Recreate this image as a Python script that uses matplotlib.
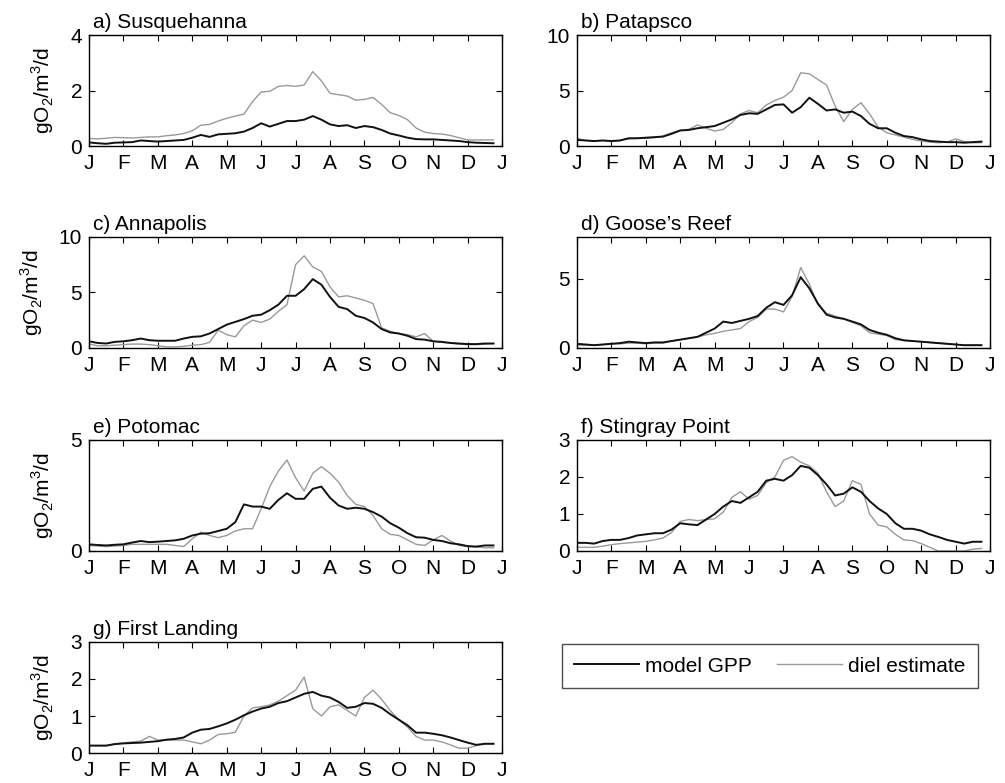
import numpy as np
import matplotlib
matplotlib.use('Agg')
import matplotlib.pyplot as plt

plt.rcParams['font.family'] = 'Liberation Sans'
plt.rcParams['mathtext.fontset'] = 'custom'
plt.rcParams['mathtext.rm'] = 'Liberation Sans'
plt.rcParams['axes.linewidth'] = 1.0

# sampled every quarter month, Jan 1 -> late Dec
months = np.arange(0, 12, 0.25)
month_labels = ['J', 'F', 'M', 'A', 'M', 'J', 'J', 'A', 'S', 'O', 'N', 'D', 'J']

# a) Susquehanna
a_gpp = [0.13, 0.10, 0.08, 0.12, 0.13, 0.14, 0.20, 0.18, 0.16, 0.18, 0.20, 0.22,
         0.30, 0.40, 0.33, 0.42, 0.44, 0.46, 0.52, 0.65, 0.82, 0.70, 0.80, 0.90,
         0.90, 0.95, 1.08, 0.95, 0.78, 0.72, 0.75, 0.65, 0.72, 0.68, 0.58, 0.45,
         0.38, 0.30, 0.25, 0.24, 0.24, 0.22, 0.20, 0.18, 0.14, 0.12, 0.11, 0.10]
a_diel = [0.27, 0.26, 0.28, 0.31, 0.30, 0.29, 0.31, 0.33, 0.33, 0.37, 0.40, 0.45,
          0.55, 0.75, 0.78, 0.90, 1.00, 1.08, 1.15, 1.60, 1.95, 1.97, 2.15, 2.18,
          2.15, 2.20, 2.68, 2.35, 1.90, 1.85, 1.80, 1.65, 1.68, 1.75, 1.50, 1.20,
          1.10, 0.95, 0.65, 0.50, 0.45, 0.43, 0.38, 0.30, 0.22, 0.22, 0.22, 0.22]

# b) Patapsco
b_gpp = [0.55, 0.50, 0.45, 0.50, 0.45, 0.50, 0.70, 0.70, 0.75, 0.80, 0.85, 1.10,
         1.40, 1.45, 1.60, 1.70, 1.80, 2.10, 2.40, 2.80, 2.95, 2.90, 3.30, 3.70,
         3.75, 3.00, 3.50, 4.35, 3.80, 3.20, 3.30, 3.00, 3.10, 2.70, 2.00, 1.60,
         1.60, 1.20, 0.90, 0.80, 0.60, 0.45, 0.40, 0.35, 0.35, 0.30, 0.35, 0.40]
b_diel = [0.70, 0.50, 0.45, 0.50, 0.40, 0.50, 0.65, 0.70, 0.70, 0.75, 0.90, 1.20,
          1.40, 1.50, 1.90, 1.60, 1.35, 1.50, 2.10, 2.90, 3.20, 3.00, 3.70, 4.10,
          4.40, 5.00, 6.60, 6.50, 6.00, 5.50, 3.60, 2.20, 3.30, 3.90, 2.90, 1.70,
          1.20, 1.00, 0.80, 0.60, 0.45, 0.35, 0.30, 0.35, 0.65, 0.40, 0.30, 0.30]

# c) Annapolis
c_gpp = [0.60, 0.45, 0.40, 0.55, 0.60, 0.70, 0.85, 0.70, 0.65, 0.65, 0.65, 0.85,
         1.00, 1.05, 1.30, 1.70, 2.10, 2.35, 2.60, 2.90, 3.00, 3.40, 3.90, 4.70,
         4.70, 5.30, 6.20, 5.70, 4.60, 3.70, 3.50, 2.90, 2.70, 2.30, 1.70, 1.40,
         1.30, 1.10, 0.80, 0.75, 0.60, 0.55, 0.45, 0.40, 0.35, 0.35, 0.40, 0.40]
c_diel = [0.35, 0.20, 0.20, 0.25, 0.30, 0.35, 0.35, 0.30, 0.20, 0.10, 0.10, 0.15,
          0.25, 0.30, 0.50, 1.60, 1.20, 1.00, 2.00, 2.50, 2.30, 2.60, 3.30, 3.90,
          7.50, 8.30, 7.30, 6.90, 5.50, 4.60, 4.70, 4.50, 4.30, 4.00, 1.80, 1.50,
          1.30, 1.20, 1.00, 1.30, 0.60, 0.50, 0.45, 0.35, 0.30, 0.30, 0.35, 0.40]

# d) Goose's Reef
d_gpp = [0.30, 0.25, 0.20, 0.25, 0.30, 0.35, 0.45, 0.40, 0.35, 0.40, 0.40, 0.50,
         0.60, 0.70, 0.80, 1.10, 1.40, 1.90, 1.80, 1.95, 2.10, 2.30, 2.90, 3.30,
         3.10, 3.80, 5.10, 4.30, 3.20, 2.40, 2.20, 2.10, 1.90, 1.70, 1.30, 1.10,
         0.95, 0.70, 0.55, 0.50, 0.45, 0.40, 0.35, 0.30, 0.25, 0.20, 0.20, 0.20]
d_diel = [0.20, 0.20, 0.20, 0.25, 0.30, 0.30, 0.35, 0.35, 0.30, 0.35, 0.35, 0.50,
          0.60, 0.70, 0.80, 0.95, 1.05, 1.20, 1.30, 1.40, 1.90, 2.20, 2.80, 2.80,
          2.60, 3.70, 5.80, 4.60, 3.10, 2.50, 2.30, 2.10, 1.85, 1.60, 1.10, 1.00,
          0.90, 0.60, 0.55, 0.50, 0.45, 0.40, 0.35, 0.30, 0.25, 0.20, 0.20, 0.20]

# e) Potomac
e_gpp = [0.30, 0.27, 0.25, 0.28, 0.30, 0.38, 0.45, 0.40, 0.42, 0.45, 0.48, 0.55,
         0.70, 0.78, 0.80, 0.90, 1.00, 1.30, 2.10, 2.00, 2.00, 1.90, 2.30, 2.60,
         2.35, 2.35, 2.80, 2.90, 2.40, 2.05, 1.90, 1.95, 1.90, 1.75, 1.55, 1.25,
         1.05, 0.80, 0.62, 0.60, 0.50, 0.45, 0.35, 0.30, 0.22, 0.20, 0.25, 0.25]
e_diel = [0.25, 0.22, 0.20, 0.22, 0.25, 0.30, 0.30, 0.30, 0.30, 0.30, 0.25, 0.20,
          0.55, 0.85, 0.70, 0.60, 0.70, 0.90, 1.00, 1.00, 1.90, 2.90, 3.60, 4.10,
          3.30, 2.70, 3.50, 3.80, 3.50, 3.10, 2.50, 2.10, 2.00, 1.60, 1.00, 0.75,
          0.70, 0.50, 0.30, 0.25, 0.50, 0.70, 0.45, 0.25, 0.20, 0.18, 0.15, 0.15]

# f) Stingray Point
f_gpp = [0.22, 0.22, 0.20, 0.27, 0.30, 0.30, 0.35, 0.42, 0.45, 0.48, 0.48, 0.58,
         0.75, 0.72, 0.70, 0.85, 1.00, 1.20, 1.35, 1.30, 1.45, 1.60, 1.90, 1.95,
         1.90, 2.05, 2.30, 2.25, 2.05, 1.80, 1.50, 1.55, 1.72, 1.60, 1.35, 1.15,
         1.00, 0.75, 0.60, 0.60, 0.55, 0.45, 0.38, 0.30, 0.25, 0.20, 0.25, 0.25]
f_diel = [0.10, 0.10, 0.10, 0.13, 0.17, 0.20, 0.22, 0.24, 0.26, 0.30, 0.35, 0.50,
          0.80, 0.85, 0.82, 0.85, 0.87, 1.05, 1.45, 1.60, 1.40, 1.50, 1.85, 2.00,
          2.45, 2.55, 2.40, 2.30, 2.10, 1.60, 1.20, 1.35, 1.90, 1.80, 1.00, 0.70,
          0.65, 0.45, 0.30, 0.28, 0.20, 0.10, 0.00, 0.00, 0.00, 0.00, 0.05, 0.07]

# g) First Landing
g_gpp = [0.20, 0.20, 0.20, 0.24, 0.26, 0.27, 0.28, 0.30, 0.32, 0.36, 0.38, 0.42,
         0.55, 0.63, 0.65, 0.72, 0.80, 0.90, 1.02, 1.12, 1.20, 1.25, 1.35, 1.40,
         1.50, 1.60, 1.65, 1.55, 1.50, 1.38, 1.22, 1.25, 1.35, 1.33, 1.22, 1.05,
         0.90, 0.75, 0.55, 0.55, 0.52, 0.48, 0.42, 0.35, 0.28, 0.22, 0.25, 0.25]
g_diel = [0.20, 0.20, 0.20, 0.25, 0.27, 0.30, 0.32, 0.45, 0.35, 0.35, 0.35, 0.35,
          0.30, 0.25, 0.35, 0.50, 0.52, 0.56, 1.00, 1.22, 1.25, 1.30, 1.40, 1.55,
          1.70, 2.05, 1.20, 1.00, 1.25, 1.30, 1.15, 1.00, 1.50, 1.70, 1.45, 1.15,
          0.90, 0.70, 0.45, 0.35, 0.35, 0.30, 0.22, 0.13, 0.13, 0.20, 0.25, 0.25]

titles = ['a) Susquehanna', 'b) Patapsco', 'c) Annapolis', "d) Goose\u2019s Reef",
          'e) Potomac', 'f) Stingray Point', 'g) First Landing']
gpp_series = [a_gpp, b_gpp, c_gpp, d_gpp, e_gpp, f_gpp, g_gpp]
diel_series = [a_diel, b_diel, c_diel, d_diel, e_diel, f_diel, g_diel]
y_max = [4, 10, 10, 8, 5, 3, 3]
y_ticks = [[0, 2, 4], [0, 5, 10], [0, 5, 10], [0, 5], [0, 5],
           [0, 1, 2, 3], [0, 1, 2, 3]]

fig = plt.figure(figsize=(10.05, 7.83), dpi=100)

col_left = [0.0886, 0.5741]
col_width = 0.411
row_bottom = [0.8135, 0.5556, 0.2963, 0.0383]
row_height = 0.1418

for i in range(7):
    row, col = i // 2, i % 2
    ax = fig.add_axes([col_left[col], row_bottom[row], col_width, row_height])
    ax.plot(months, diel_series[i], color='#9a9a9a', lw=1.0)
    ax.plot(months, gpp_series[i], color='#111111', lw=1.4)

    ax.set_xlim(0, 12)
    ax.set_xticks(range(13))
    ax.set_xticklabels(month_labels)
    ax.set_ylim(0, y_max[i])
    ax.set_yticks(y_ticks[i])
    ax.tick_params(direction='in', top=True, right=True, length=4,
                   width=0.8, labelsize=15)
    ax.tick_params(axis='x', pad=6)
    ax.tick_params(axis='y', pad=5)

    ax.annotate(titles[i], xy=(0.01, 1), xycoords='axes fraction',
                xytext=(0, 5), textcoords='offset points',
                fontsize=15, ha='left', va='baseline')
    if col == 0:
        ax.set_ylabel(r'gO$_\mathregular{2}$/m$^\mathregular{3}$/d',
                      fontsize=15, labelpad=10)

# legend in the empty bottom-right slot
h1, = plt.plot([], [], color='#111111', lw=1.4)
h2, = plt.plot([], [], color='#9a9a9a', lw=1.0)
leg = fig.legend([h1, h2], ['model GPP', 'diel estimate'], ncol=2,
                 loc='center', bbox_to_anchor=(0.766, 0.1494),
                 fontsize=15, frameon=True, fancybox=False,
                 handlelength=3.1, handletextpad=0.3, columnspacing=1.2,
                 borderpad=0.6)
leg.get_frame().set_edgecolor('#222222')
leg.get_frame().set_linewidth(1.0)

fig.savefig('out.png', dpi=100)
